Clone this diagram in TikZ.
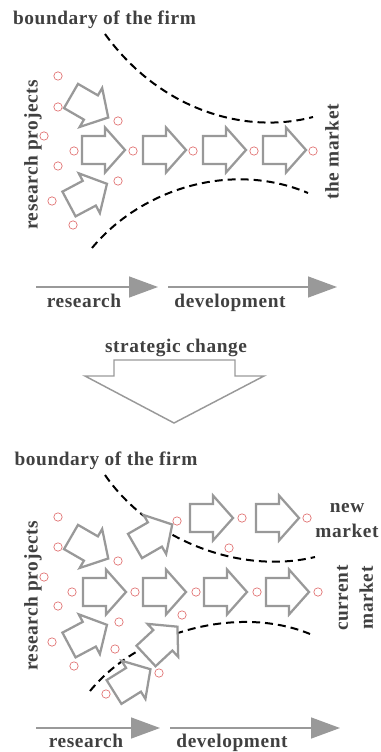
\documentclass[tikz,border=0pt]{standalone}
\usepackage{fontspec}
\setmainfont{Liberation Serif}[LetterSpace=3]
\usetikzlibrary{arrows.meta}
\definecolor{labelgray}{HTML}{404040}
\definecolor{arrowgray}{HTML}{999999}
\definecolor{dotred}{HTML}{E07070}

\begin{document}
\begin{tikzpicture}[
        x=0.75pt, y=-0.75pt,
        lbl/.style={font=\fontsize{14.5}{18.75}\selectfont\bfseries, text=labelgray, inner sep=0pt, align=center},
        boundary/.style={line width=1.5pt, dash pattern=on 6pt off 3.75pt},
        project/.style={draw=dotred, line width=0.5pt},
        phase/.style={draw=arrowgray, line width=1.1pt, -{Triangle[length=21.75pt, width=15.75pt]}},
        blockarrow/.pic={
            \draw[draw=arrowgray, fill=white, line width=1.7pt, line join=miter]
                (0,-14) -- (23,-14) -- (23,-22.5) -- (43,0) -- (23,22.5) -- (23,14) -- (0,14) -- cycle;
        }
    ]
        \useasboundingbox (0,0) rectangle (380,752);

        % before
        \node[lbl, anchor=base] (firm1) at (104.5,25) {boundary of the firm};
        \node[lbl, rotate=90] (projects1) at (33,155) {research projects};
        \node[lbl, rotate=90] (market1) at (332,152) {the market};
        \draw[boundary] (105,34) .. controls (160,110) and (245,135) .. (313,117);
        \draw[boundary] (92,248) .. controls (140,190) and (230,160) .. (308,193);
        \pic (in1) [rotate=-30] at (71,96) {blockarrow};
        \pic (in2) [rotate=28] at (69,204) {blockarrow};
        \foreach \x [count=\i] in {82,143,203,263}
            \pic (step1\i) at (\x,150) {blockarrow};
        \foreach \x/\y in {58/76, 58/107, 118/121, 44/136, 58/166, 118/181, 52/201, 73/225,
                74/151, 133/151, 193/151, 254/151, 313/151}
            \draw[project] (\x,\y) circle (4.2);

        \coordinate (r1a) at (36,287);
        \coordinate (r1b) at (158,287);
        \coordinate (d1a) at (168,287);
        \coordinate (d1b) at (337,287);
        \draw[phase] (r1a) -- (r1b);
        \draw[phase] (d1a) -- (d1b);
        \node[lbl, anchor=base] (research1) at (84,307) {research};
        \node[lbl, anchor=base] (development1) at (230,307) {development};

        % change
        \node[lbl, anchor=base] (change) at (176,352) {strategic change};
        \draw[draw=arrowgray, line width=1.1pt] (114,360) -- (235,360) -- (235,376) -- (264,376)
            -- (174,423) -- (85,376) -- (114,376) -- cycle;

        % after
        \node[lbl, anchor=base] (firm2) at (106,465) {boundary of the firm};
        \node[lbl, rotate=90] (projects2) at (33,596) {research projects};
        \node[lbl, anchor=base] (newmarket) at (347,537) {new\\market};
        \node[lbl, rotate=90] (curmarket) at (355,598) {current\\market};
        \draw[boundary] (105,475) .. controls (150,540) and (240,575) .. (315,557);
        \draw[boundary] (90,691) .. controls (140,630) and (240,605) .. (310,634);
        \pic (in3) [rotate=-30] at (71,537) {blockarrow};
        \pic (in4) [rotate=28] at (69,645) {blockarrow};
        \pic (in5) [rotate=30] at (135,546) {blockarrow};
        \pic (in6) [rotate=43] at (146,656) {blockarrow};
        \pic (in7) [rotate=32] at (114,692) {blockarrow};
        \foreach \x [count=\i] in {83,143,204,266}
            \pic (step2\i) at (\x,592) {blockarrow};
        \foreach \x [count=\i] in {190,256}
            \pic (new\i) at (\x,518) {blockarrow};
        \foreach \x/\y in {58/517, 58/547, 118/561, 44/577, 58/606, 119/622, 52/642, 74/666,
                72/592, 135/592, 196/592, 257/592, 318/592,
                177/521, 242/518, 307/518, 229/548,
                182/615, 115/649, 159/673, 106/694}
            \draw[project] (\x,\y) circle (4.2);

        \coordinate (r2a) at (36,728);
        \coordinate (r2b) at (160,728);
        \coordinate (d2a) at (170,728);
        \coordinate (d2b) at (340,728);
        \draw[phase] (r2a) -- (r2b);
        \draw[phase] (d2a) -- (d2b);
        \node[lbl, anchor=base] (research2) at (86,747) {research};
        \node[lbl, anchor=base] (development2) at (232,747) {development};
\end{tikzpicture}
\end{document}
